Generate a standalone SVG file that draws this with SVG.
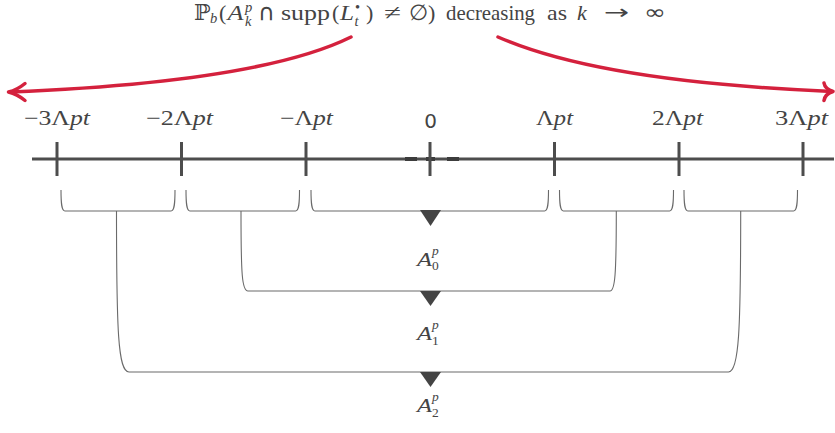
<svg xmlns="http://www.w3.org/2000/svg" width="835" height="433" viewBox="0 0 835 433">
<style>
  text { font-family: "Liberation Serif", "DejaVu Serif", serif; fill: #444; }
  .t { font-size: 22px; }
  .s { font-size: 14.5px; }
  .i { font-style: italic; }
  .sym { font-family: "DejaVu Sans", sans-serif; font-size: 20px; }
  .tick { font-size: 21px; }
  .lab { font-size: 19px; }
  .ls { font-size: 13.5px; }
  .axis { stroke: #4d4d4d; stroke-width: 3; fill: none; }
  .tk { stroke: #4d4d4d; stroke-width: 3; }
  .dash { stroke: #3c3c3c; stroke-width: 4; }
  .br { stroke: #6a6a6a; stroke-width: 1.1; fill: none; }
  .con { stroke: #6a6a6a; stroke-width: 1.1; fill: none; }
  .red { stroke: #d4213d; stroke-width: 3.5; fill: none; stroke-linecap: round; stroke-linejoin: round; }
  .tri { fill: #444; }
</style>

<g id="title">
  <text class="t" x="194" y="19.5" font-family="DejaVu Serif, serif">ℙ</text>
  <text class="s i" x="210" y="23">b</text>
  <text class="t" x="219" y="19.5">(</text>
  <text class="t i" x="227.5" y="19.5" textLength="16" lengthAdjust="spacingAndGlyphs">A</text>
  <text class="s i" x="245" y="11.5">p</text>
  <text class="s i" x="245" y="26">k</text>
  <text class="sym" x="258" y="19.5" style="font-size:23px">∩</text>
  <text class="t" x="281" y="19.5" textLength="49" lengthAdjust="spacingAndGlyphs">supp</text>
  <text class="t" x="332" y="19.5">(</text>
  <text class="t i" x="340" y="19.5" textLength="14" lengthAdjust="spacingAndGlyphs">L</text>
  <text class="s" x="355" y="11.5">•</text>
  <text class="s i" x="354.5" y="26">t</text>
  <text class="t" x="366" y="19.5">)</text>
  <text class="t" x="384" y="19.5" textLength="17" lengthAdjust="spacingAndGlyphs">≠</text>
  <text class="t" x="409" y="19.5">∅</text>
  <text class="t" x="428" y="19.5">)</text>
  <text class="t" x="446" y="19.5" textLength="89" lengthAdjust="spacingAndGlyphs">decreasing</text>
  <text class="t" x="547" y="19.5" textLength="20" lengthAdjust="spacingAndGlyphs">as</text>
  <text class="t i" x="577" y="19.5">k</text>
  <text class="sym" transform="translate(604,19) scale(1.5,1)">→</text>
  <text class="sym" transform="translate(644,19) scale(1.3,1)">∞</text>
</g>

<g id="red-arrows">
  <path class="red" d="M351,37 Q260,82 10,92"/>
  <path class="red" d="M25,83.5 Q17,90 8.5,92 Q17,94 25,100.5"/>
  <path class="red" d="M498,37 Q600,82 832,91.5"/>
  <path class="red" d="M824,83 Q825,89 833,91.5 Q825,94 824,100.5"/>
</g>

<g id="axis">
  <line class="axis" x1="32" y1="159" x2="834" y2="159"/>
  <line class="dash" x1="405" y1="159" x2="417" y2="159"/>
  <line class="dash" x1="426" y1="159" x2="435" y2="159"/>
  <line class="dash" x1="447" y1="159" x2="459" y2="159"/>
  <line class="tk" x1="57" y1="142" x2="57" y2="176"/>
  <line class="tk" x1="181.5" y1="142" x2="181.5" y2="176"/>
  <line class="tk" x1="306" y1="142" x2="306" y2="176"/>
  <line class="tk" x1="430" y1="142" x2="430" y2="176"/>
  <line class="tk" x1="554.5" y1="142" x2="554.5" y2="176"/>
  <line class="tk" x1="679" y1="142" x2="679" y2="176"/>
  <line class="tk" x1="803" y1="142" x2="803" y2="176"/>
</g>

<g id="tick-labels">
  <text class="tick" x="24" y="125" textLength="66" lengthAdjust="spacingAndGlyphs">−3Λ<tspan class="i">pt</tspan></text>
  <text class="tick" x="146" y="125" textLength="67" lengthAdjust="spacingAndGlyphs">−2Λ<tspan class="i">pt</tspan></text>
  <text class="tick" x="280" y="125" textLength="53" lengthAdjust="spacingAndGlyphs">−Λ<tspan class="i">pt</tspan></text>
  <text x="430.5" y="128" text-anchor="middle" style="font-family: 'DejaVu Sans', sans-serif; font-size: 20px;">0</text>
  <text class="tick" x="536" y="125" textLength="37" lengthAdjust="spacingAndGlyphs">Λ<tspan class="i">pt</tspan></text>
  <text class="tick" x="652" y="125" textLength="51" lengthAdjust="spacingAndGlyphs">2Λ<tspan class="i">pt</tspan></text>
  <text class="tick" x="775" y="125" textLength="53" lengthAdjust="spacingAndGlyphs">3Λ<tspan class="i">pt</tspan></text>
</g>

<g id="brackets">
  <path class="br" d="M61,190 C61,204 61.5,211 65,211 H171 C174.5,211 175,204 175,190"/>
  <path class="br" d="M186,190 C186,204 186.5,211 190,211 H295.5 C299,211 299.5,204 299.5,190"/>
  <path class="br" d="M311,190 C311,204 311.5,211 315,211 H544.5 C548,211 548.5,204 548.5,190"/>
  <path class="br" d="M559.5,190 C559.5,204 560,211 563.5,211 H669.5 C673,211 673.5,204 673.5,190"/>
  <path class="br" d="M684,190 C684,204 684.5,211 688,211 H793.5 C797,211 797.5,204 797.5,190"/>
</g>

<g id="connectors">
  <path class="con" d="M241,211 C241,275 242,291 248,291 H610 C615,291 616.3,275 616.3,211"/>
  <path class="con" d="M116.5,211 C116.5,330 118,372 129,372 H728.5 C739,372 740.7,330 740.7,211"/>
</g>

<g id="A0">
  <polygon class="tri" points="420,210 441,210 430.5,226"/>
  <text class="lab i" x="417" y="265.5" textLength="15" lengthAdjust="spacingAndGlyphs">A</text>
  <text class="ls i" x="432" y="254.5">p</text>
  <text class="ls" x="432" y="270">0</text>
</g>
<g id="A1">
  <polygon class="tri" points="420,291 441,291 430.5,306"/>
  <text class="lab i" x="417" y="340" textLength="15" lengthAdjust="spacingAndGlyphs">A</text>
  <text class="ls i" x="432" y="329">p</text>
  <text class="ls" x="432" y="344.5">1</text>
</g>
<g id="A2">
  <polygon class="tri" points="420,372 441,372 430.5,387"/>
  <text class="lab i" x="417" y="412" textLength="15" lengthAdjust="spacingAndGlyphs">A</text>
  <text class="ls i" x="432" y="401">p</text>
  <text class="ls" x="432" y="417">2</text>
</g>
</svg>
